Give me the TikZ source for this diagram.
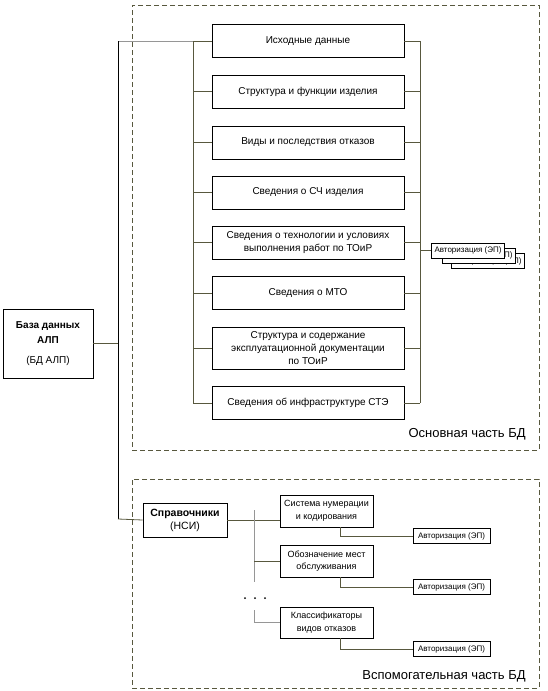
\documentclass[tikz,border=0pt]{standalone}
\usepackage{fontspec}
\setmainfont{Liberation Sans}
\usetikzlibrary{positioning,calc}

\definecolor{olive}{RGB}{88,88,62}
\definecolor{lgray}{RGB}{150,150,150}

\begin{document}
\begin{tikzpicture}[
        x=1pt, y=-1pt,
        font=\fontsize{10}{13}\selectfont,
        item/.style ={draw, thick, fill=white, minimum width=192pt,
                      minimum height=33pt, align=center, inner sep=1pt},
        sub/.style  ={draw, thick, fill=white, minimum width=93pt,
                      minimum height=32pt, align=center, inner sep=1pt,
                      font=\fontsize{9}{12.5}\selectfont},
        auth/.style ={draw, fill=white, minimum width=73pt, minimum height=15pt,
                      inner sep=1pt, font=\fontsize{8}{9}\selectfont},
        frame/.style={draw=olive, dashed, dash pattern=on 5pt off 3pt},
        lnk/.style  ={draw=olive, thick},
        lnkg/.style ={draw=lgray, thick},
        flbl/.style ={anchor=south east, font=\fontsize{13}{15}\selectfont},
    ]
    \useasboundingbox (0,0) rectangle (547,691);

    % ===================== Frames =====================
    \node[frame, minimum width=407pt, minimum height=445pt] (mainpart) at (335.5,227.5) {};
    \node[flbl] at ([shift={(-10pt,7pt)}]mainpart.south east) {Основная часть БД};
    \node[frame, minimum width=407pt, minimum height=209pt] (auxpart) at (335.5,583.5) {};
    \node[flbl] at ([shift={(-10pt,3pt)}]auxpart.south east) {Вспомогательная часть БД};

    % ===================== Root =====================
    \node[draw, thick, minimum width=90pt, minimum height=69pt, align=center,
          font=\fontsize{10}{15}\selectfont] (bd) at (48,343.5)
        {\textbf{База данных}\\\textbf{АЛП}\\[5pt](БД АЛП)};

    % ===================== Main part =====================
    \node[item] (src)    at (308,41)    {Исходные данные};
    \node[item] (struct) at (308,91.5)  {Структура и функции изделия};
    \node[item] (fail)   at (308,142.5) {Виды и последствия отказов};
    \node[item] (sch)    at (308,192.5) {Сведения о СЧ изделия};
    \node[item] (tech)   at (308,242.5) {Сведения о технологии и условиях\\выполнения работ по ТОиР};
    \node[item] (mto)    at (308,293)   {Сведения о МТО};
    \node[item, minimum height=42pt] (doc) at (308,348)
        {Структура и содержание\\эксплуатационной документации\\по ТОиР};
    \node[item] (infra)  at (308,403)   {Сведения об инфраструктуре СТЭ};

    \coordinate (t1) at (118,41);
    \coordinate (t2) at (118,519);
    \coordinate (lb) at (193,41);
    \coordinate (rb) at (420,41);

    \draw[lnkg] (t1) -- (src.west);
    \draw[thick] (t1) -- (t2);
    \draw[lnk] (bd.east) -- (bd.east -| t1);
    \draw[lnk] (lb) -- (infra.west -| lb);
    \draw[lnk] (rb) -- (infra.east -| rb);
    \foreach \n in {src,struct,fail,sch,tech,mto,doc,infra}{
        \draw[lnk] (\n.west -| lb) -- (\n.west);
        \draw[lnk] (\n.east) -- (\n.east -| rb);
    }

    % authorisation stack
    \node[auth] (au3) at (488,261) {Авторизация (ЭП)};
    \node[auth] (au2) at (479,255.5) {Авторизация (ЭП)};
    \node[auth] (au1) at (468,250.5) {Авторизация (ЭП)};
    \draw[lnk] (au1.west -| rb) -- (au1.west);

    % ===================== Auxiliary part =====================
    \node[draw, thick, minimum width=84pt, minimum height=34pt, align=center,
          font=\fontsize{10.5}{13}\selectfont] (ref) at (185,520)
        {\textbf{Справочники}\\(НСИ)};
    \node[sub] (sys) at (326.5,511)   {Система нумерации\\и кодирования};
    \node[sub] (obs) at (326.5,561)   {Обозначение мест\\обслуживания};
    \node[sub, minimum height=31pt] (cls) at (326.5,622.5) {Классификаторы\\видов отказов};

    \coordinate (sb) at (254,510);
    \coordinate (sbe) at (254,582);
    \coordinate (sbc) at (254,610);

    \draw[lnk] (t2) -- (ref.west);
    \draw[lnk] (ref.east) -- (ref.east -| sys.west);
    \draw[lnkg] (sb) -- (sbe);
    \draw[lnkg] (sbc) -- (cls.west -| sbc) -- (cls.west);
    \draw[lnk] (obs.west -| sb) -- (obs.west);
    \foreach \x in {245,255,265}{
        \fill (\x,598) circle (1pt);
    }

    \node[auth, minimum width=77pt] (as1) at (451.5,536) {Авторизация (ЭП)};
    \node[auth, minimum width=77pt] (as2) at (451.5,587) {Авторизация (ЭП)};
    \node[auth, minimum width=77pt] (as3) at (451.5,649) {Авторизация (ЭП)};
    \foreach \b/\a in {sys/as1,obs/as2,cls/as3}{
        \draw[lnk] ([xshift=13.5pt]\b.south) |- (\a.west);
    }
\end{tikzpicture}
\end{document}
